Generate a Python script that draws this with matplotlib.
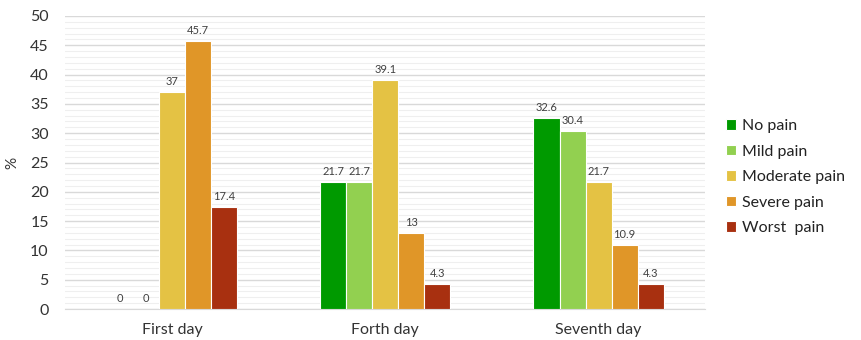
import numpy as np
import matplotlib.pyplot as plt
from matplotlib.ticker import MultipleLocator

days = ["First day", "Forth day", "Seventh day"]
levels = ["No pain", "Mild pain", "Moderate pain", "Severe pain", "Worst  pain"]
no_pain = [0, 21.7, 32.6]
mild_pain = [0, 21.7, 30.4]
moderate_pain = [37, 39.1, 21.7]
severe_pain = [45.7, 13, 10.9]
worst_pain = [17.4, 4.3, 4.3]
colors = ["#009a00", "#92d050", "#e4c244", "#e09628", "#a83010"]

plt.rcParams['font.family'] = ['Lato', 'DejaVu Sans']

fig = plt.figure(figsize=(8.61, 3.40), dpi=100)
ax = fig.add_axes([0.076, 0.091, 0.743, 0.862])

series = [no_pain, mild_pain, moderate_pain, severe_pain, worst_pain]
x = np.arange(len(days))
w = 0.122
for i, vals in enumerate(series):
    pos = x + (i - 2) * w
    bars = ax.bar(pos, vals, w, color=colors[i], edgecolor="white", linewidth=0.8,
                  label=levels[i], zorder=3)
    for b, v in zip(bars, vals):
        ax.text(b.get_x() + b.get_width() / 2, v + 0.8, f"{v:g}", ha="center", va="bottom",
                fontsize=8, color="#404040")

ax.set_xlim(-0.5, 2.5)
ax.set_ylim(0, 50)
ax.set_xticks(x)
ax.set_xticklabels(days, fontsize=11.5, color="#333333")
ax.yaxis.set_major_locator(MultipleLocator(5))
ax.yaxis.set_minor_locator(MultipleLocator(1))
ax.tick_params(axis="y", which="both", length=0, labelsize=11.5, labelcolor="#333333", pad=12)
ax.tick_params(axis="x", length=0, pad=10)
ax.grid(axis="y", which="major", color="#d9d9d9", linewidth=1, zorder=0)
ax.grid(axis="y", which="minor", color="#efefef", linewidth=0.8, zorder=0)
for s in ["top", "right", "left"]:
    ax.spines[s].set_visible(False)
ax.spines["bottom"].set_color("#d9d9d9")
ax.set_ylabel("%", fontsize=11, color="#333333", labelpad=8)

ax.legend(loc="center left", bbox_to_anchor=(1.01, 0.45), frameon=False, fontsize=11.5,
          handlelength=0.6, handleheight=0.6, handletextpad=0.4, labelspacing=0.72,
          labelcolor="#222222")

fig.savefig("out.png", dpi=100)
